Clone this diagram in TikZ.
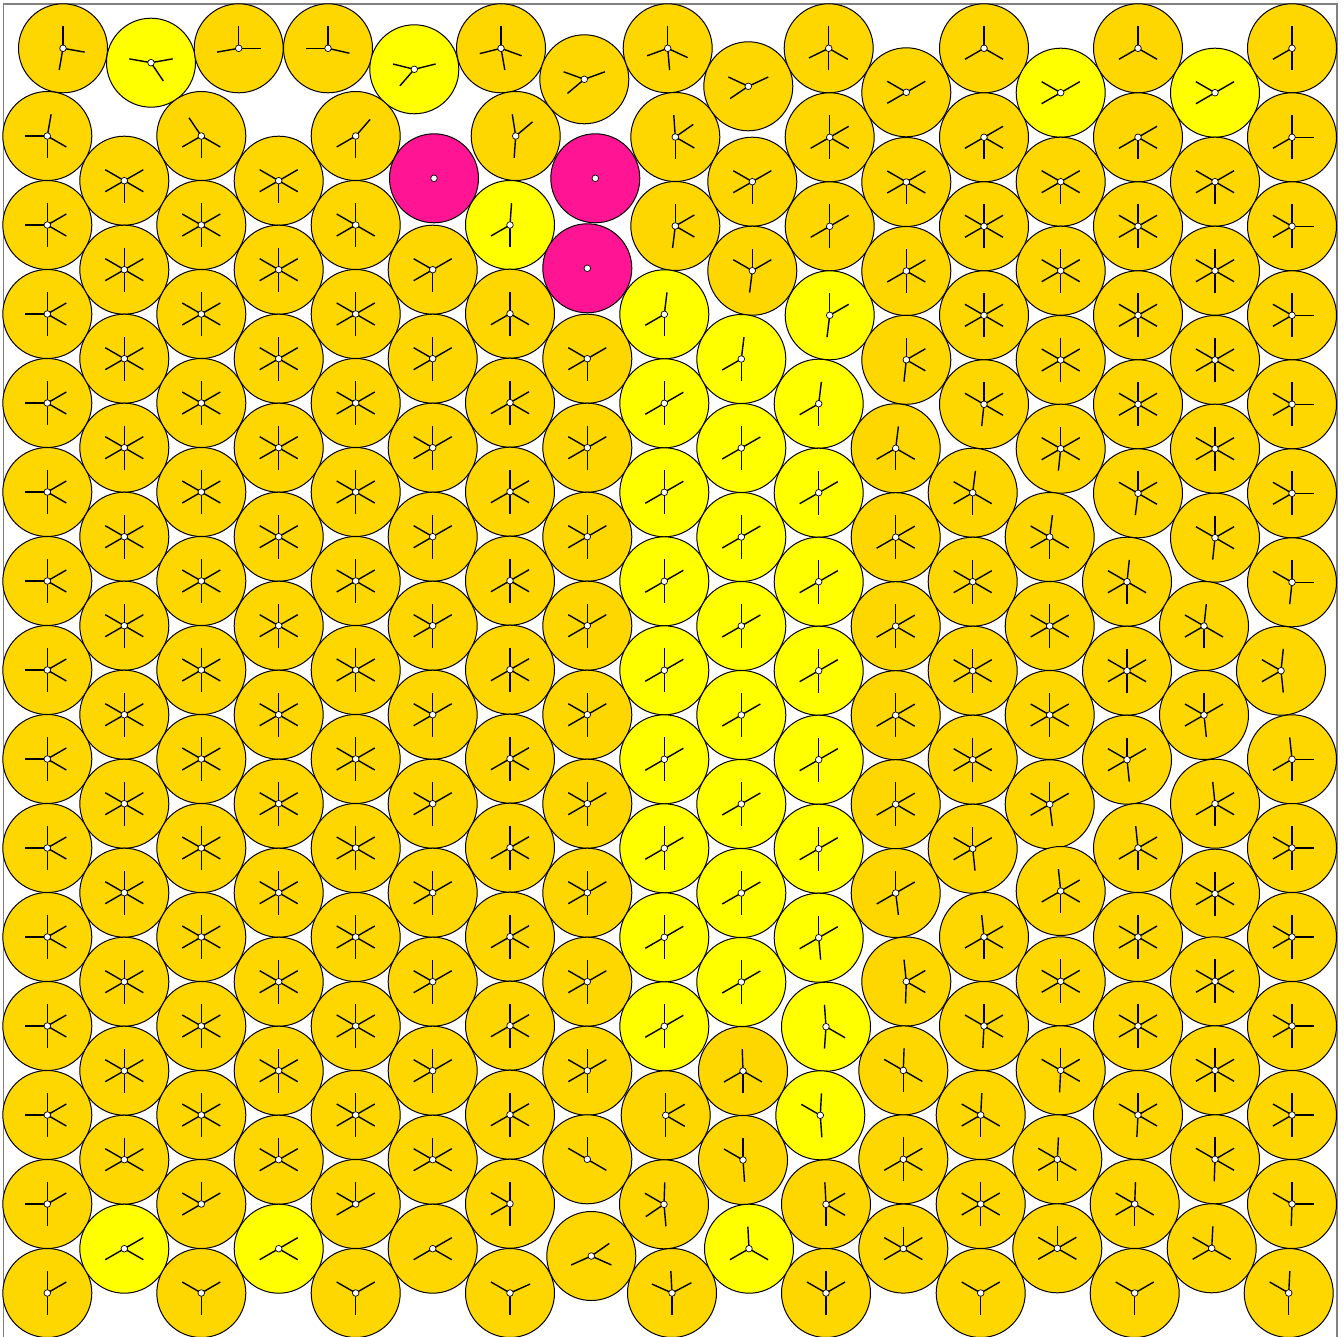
\documentclass[tikz,border=0pt]{standalone}
\definecolor{cg}{HTML}{FFD700}
\definecolor{cy}{HTML}{FFFF00}
\definecolor{cp}{HTML}{FF1493}
\definecolor{framegray}{HTML}{808080}
\tikzset{
  rim/.style={draw=black,line width=0.5pt},
  spoke/.style={draw=black,line width=0.7pt},
  hub/.style={fill=white,draw=black,line width=0.35pt}
}
\def\sixsp{90,150,30,210,-30,-90}
\newcommand\dsk[4]{%
  \pgfmathsetmacro\dskx{#1}\pgfmathsetmacro\dsky{-(#2)}%
  \fill[#3] (\dskx,\dsky) circle[radius=44.5];
  \draw[rim] (\dskx,\dsky) circle[radius=44.5];
  \edef\dsklist{#4}%
  \foreach \a in \dsklist {\draw[spoke] (\dskx,\dsky) -- ++(\a:22);}%
  \filldraw[hub] (\dskx,\dsky) circle[radius=3.3];
}
\newcommand\pnk[2]{%
  \pgfmathsetmacro\dskx{#1}\pgfmathsetmacro\dsky{-(#2)}%
  \fill[cp] (\dskx,\dsky) circle[radius=44.5];
  \draw[rim] (\dskx,\dsky) circle[radius=44.5];
  \filldraw[hub] (\dskx,\dsky) circle[radius=3.3];
}
\begin{document}
\begin{tikzpicture}[x=0.5pt,y=0.5pt]
\useasboundingbox (0,0) rectangle (1344,-1337);
\fill[white] (0,0) rectangle (1344,-1337);
\draw[framegray,line width=0.75pt] (3.5,-1340) -- (3.5,-4) -- (1337,-4) -- (1337,-1340);
% col 0
\dsk{63}{48.3}{cg}{90,-10,-100}
\dsk{47.3}{136}{cg}{80,180,-30,-90}
\foreach \k in {0,...,10} {\dsk{47.3}{225+89*\k}{cg}{180,90,30,-30,-90}}
\dsk{47.3}{1204}{cg}{180,90,30,-90}
\dsk{47.3}{1293}{cg}{90,30,-90}
% col 1
\dsk{151}{62.7}{cy}{170,10,-56}
\dsk{124.3}{180.7}{cg}{150,30,210,-30,-90}
\foreach \k in {0,...,9} {\dsk{124.3}{269.7+89*\k}{cg}{\sixsp}}
\dsk{124.3}{1159.7}{cg}{90,150,30,210,-30}
\dsk{124.3}{1248.7}{cy}{30,-30,210}
% col 2
\dsk{238.7}{48.3}{cg}{90,190,0}
\dsk{201.3}{136}{cg}{124,210,-30,-90}
\foreach \k in {0,...,10} {\dsk{201.3}{225+89*\k}{cg}{\sixsp}}
\dsk{201.3}{1204}{cg}{90,150,30,210}
\dsk{201.3}{1293}{cg}{150,30,-90}
% col 3
\dsk{328}{48.3}{cg}{90,180,-13}
\dsk{278.7}{180.7}{cg}{150,30,210,-30,-90}
\foreach \k in {0,...,9} {\dsk{278.7}{269.7+89*\k}{cg}{\sixsp}}
\dsk{278.7}{1159.7}{cg}{90,150,30,210,-30}
\dsk{278.7}{1248.7}{cy}{30,-30,210}
% col 4
\dsk{414.3}{69.3}{cy}{166,14,-131}
\dsk{355.7}{136}{cg}{49,210,-90}
\dsk{355.7}{225}{cg}{90,150,210,-30,-90}
\foreach \k in {0,...,9} {\dsk{355.7}{314+89*\k}{cg}{\sixsp}}
\dsk{355.7}{1204}{cg}{90,150,30,210}
\dsk{355.7}{1293}{cg}{150,30,-90}
% col 5
\pnk{434}{178.3}
\dsk{432.7}{269.7}{cg}{150,210,30,-90}
\foreach \k in {0,...,8} {\dsk{432.7}{358.7+89*\k}{cg}{90,150,210,30,-90}}
\dsk{432.7}{1159.7}{cg}{90,150,210,30,-30}
\dsk{432.7}{1248.7}{cg}{30,-30,210}
% col 6
\dsk{501}{48.3}{cg}{90,194,-20,-80}
\dsk{515.7}{136}{cg}{99,40,-94}
\dsk{510}{225}{cy}{86,210,-90}
\dsk{510}{313.7}{cg}{90,210,-30,-90}
\foreach \k in {0,...,8} {\dsk{510}{402.7+89*\k}{cg}{90,30,210,-30,-90}}
\dsk{510}{1203.7}{cg}{90,150,210,-90}
\dsk{510}{1293}{cg}{150,24,-90}
% col 7
\dsk{584.3}{79.3}{cg}{160,20,220}
\pnk{595.3}{178.3}
\pnk{587.3}{268.3}
\dsk{587.3}{358.7}{cg}{150,30,210,-90}
\foreach \k in {0,...,7} {\dsk{587.3}{447.7+89*\k}{cg}{90,150,30,210,-90}}
\dsk{587.3}{1159.3}{cg}{90,150,-30}
\dsk{591.3}{1256}{cg}{35,204,-24}
% col 8
\dsk{667.7}{48.3}{cg}{90,200,-25,-85}
\dsk{675.3}{137}{cg}{94,35,-30,-90}
\dsk{675.3}{226}{cg}{90,30,-30,-97}
\dsk{664.3}{314.3}{cy}{83,210,-90}
\foreach \k in {0,...,7} {\dsk{664.3}{403.3+89*\k}{cy}{90,30,210,-90}}
\dsk{665.7}{1115.3}{cg}{90,30,-30,-90}
\dsk{664}{1204.3}{cg}{88,150,214,-85}
\dsk{672}{1293}{cg}{93,156,28,-90}
% col 9
\dsk{748.3}{86.3}{cg}{155,25,214}
\dsk{752.3}{181.7}{cg}{150,30,210,-90}
\dsk{752.3}{270.7}{cg}{90,150,30,-97}
\dsk{741.3}{359}{cy}{83,210,-90}
\foreach \k in {0,...,6} {\dsk{741.3}{448+89*\k}{cy}{90,30,210,-90}}
\dsk{743}{1071}{cg}{92,210,-30,-90}
\dsk{743}{1160}{cg}{90,150,-86}
\dsk{749}{1248.7}{cy}{93,210,-30}
% col 10
\dsk{828.7}{48.3}{cg}{90,206,-30,-90}
\dsk{829.7}{137.3}{cg}{90,30,-30,210,-90}
\dsk{829.7}{226.3}{cg}{90,30,210,-90}
\dsk{829.7}{315.3}{cy}{90,30,-97}
\dsk{818.7}{403.7}{cy}{83,210,-90}
\foreach \k in {0,...,4} {\dsk{818.7}{492.7+89*\k}{cy}{90,30,210,-90}}
\dsk{818.7}{937.7}{cy}{90,30,210,-85}
\dsk{826}{1026.7}{cy}{94,-30,-94}
\dsk{820.3}{1115.3}{cy}{87,150,-86}
\dsk{826}{1204.3}{cg}{93,30,-30,-90}
\dsk{826}{1293}{cg}{90,150,30,-90}
% col 11
\dsk{906.3}{92.3}{cg}{150,30,210}
\dsk{906.3}{182}{cg}{150,30,210,-30,-90}
\dsk{906.3}{271}{cg}{90,30,210,-30,-90}
\dsk{906.3}{359.8}{cg}{90,30,-30,-96}
\dsk{895.7}{448.3}{cg}{83,210,-30,-90}
\foreach \k in {0,...,3} {\dsk{895.7}{537.2+89*\k}{cg}{90,30,210,-30,-90}}
\dsk{895.7}{893}{cg}{90,30,210,-83}
\dsk{906.3}{981.5}{cg}{96,30,-30,-92}
\dsk{903.3}{1070.4}{cg}{88,150,-30,-90}
\dsk{903.3}{1159.3}{cg}{90,30,210,-30,-90}
\dsk{903.3}{1248.6}{cg}{90,150,30,210,-30}
% col 12
\dsk{984}{48.3}{cg}{90,210,-30}
\dsk{984}{137.3}{cg}{30,210,-30,-90}
\dsk{984}{226.3}{cg}{\sixsp}
\dsk{984}{315.3}{cg}{\sixsp}
\dsk{984}{404.3}{cg}{90,150,30,-30,-96}
\dsk{972.7}{492.7}{cg}{83,150,210,-30,-90}
\foreach \k in {0,...,2} {\dsk{972.7}{581.7+89*\k}{cg}{\sixsp}}
\dsk{972.7}{848.7}{cg}{90,150,30,210,-84}
\dsk{984}{937}{cg}{96,30,210,-30,-90}
\dsk{984}{1026}{cg}{90,150,30,-30,-93}
\dsk{980.7}{1115}{cg}{87,150,210,-30,-90}
\dsk{980.7}{1204}{cg}{\sixsp}
\dsk{980.7}{1293}{cg}{150,30,-90}
% col 13
\dsk{1060.7}{92.7}{cy}{150,30,210}
\dsk{1060.7}{181.7}{cg}{150,30,210,-30,-90}
\dsk{1060.7}{270.7}{cg}{\sixsp}
\dsk{1060.7}{360}{cg}{\sixsp}
\dsk{1060.7}{448.7}{cg}{90,150,30,210,-30,-96}
\dsk{1049.7}{537}{cg}{83,150,210,-30,-90}
\dsk{1049.7}{626}{cg}{\sixsp}
\dsk{1049.7}{715}{cg}{\sixsp}
\dsk{1049.7}{804.3}{cg}{90,150,30,210,-83}
\dsk{1060.7}{891}{cg}{96,30,210,-30,-90}
\dsk{1060.7}{981.3}{cg}{\sixsp}
\dsk{1060.7}{1070.3}{cg}{90,150,30,-30,-93}
\dsk{1057.3}{1159.3}{cg}{87,150,210,-30,-90}
\dsk{1057.3}{1248.3}{cg}{90,150,30,210,-30}
% col 14
\dsk{1138}{48.3}{cg}{90,210,-30}
\dsk{1138}{137.3}{cg}{30,210,-30,-90}
\dsk{1138}{226.3}{cg}{\sixsp}
\dsk{1138}{315.3}{cg}{\sixsp}
\dsk{1138}{404.3}{cg}{\sixsp}
\dsk{1138}{493.3}{cg}{90,150,30,-30,-97}
\dsk{1127}{581.7}{cg}{84,150,210,-30,-90}
\dsk{1127}{670.7}{cg}{\sixsp}
\dsk{1127}{759.7}{cg}{90,150,30,210,-84}
\dsk{1138}{848}{cg}{96,30,210,-30,-90}
\dsk{1138}{937}{cg}{\sixsp}
\dsk{1138}{1026}{cg}{\sixsp}
\dsk{1138}{1115}{cg}{90,150,30,-30,-93}
\dsk{1134.7}{1204}{cg}{88,150,210,-30,-90}
\dsk{1134.7}{1293}{cg}{150,30,-90}
% col 15
\dsk{1215}{92.7}{cy}{150,30,210}
\dsk{1215}{181.7}{cg}{150,30,210,-30,-90}
\dsk{1215}{270.7}{cg}{\sixsp}
\dsk{1215}{360}{cg}{\sixsp}
\dsk{1215}{448.7}{cg}{\sixsp}
\dsk{1215}{537.7}{cg}{90,150,30,-30,-96}
\dsk{1204}{626}{cg}{84,150,210,-30,-90}
\dsk{1204}{715}{cg}{90,150,30,210,-84}
\dsk{1215}{803.7}{cg}{96,30,210,-30,-90}
\dsk{1215}{893.7}{cg}{\sixsp}
\dsk{1215}{981.3}{cg}{\sixsp}
\dsk{1215}{1070.3}{cg}{\sixsp}
\dsk{1215}{1159.3}{cg}{90,150,30,-30,-92}
\dsk{1211.7}{1248.3}{cg}{87,150,210,-30}
% col 16
\dsk{1292}{48.3}{cg}{90,210,-90}
\dsk{1292}{137.3}{cg}{90,210,0,-90}
\foreach \k in {0,...,3} {\dsk{1292}{226.3+89*\k}{cg}{90,150,210,0,-90}}
\dsk{1292}{582.3}{cg}{90,150,0,-96}
\dsk{1281}{670.7}{cg}{84,150,210,-84}
\dsk{1292}{759.3}{cg}{96,210,0,-90}
\foreach \k in {0,...,3} {\dsk{1292}{848+89*\k}{cg}{90,150,210,0,-90}}
\dsk{1292}{1204}{cg}{90,150,0,-92}
\dsk{1288.7}{1293}{cg}{87,150,-90}
\end{tikzpicture}
\end{document}
